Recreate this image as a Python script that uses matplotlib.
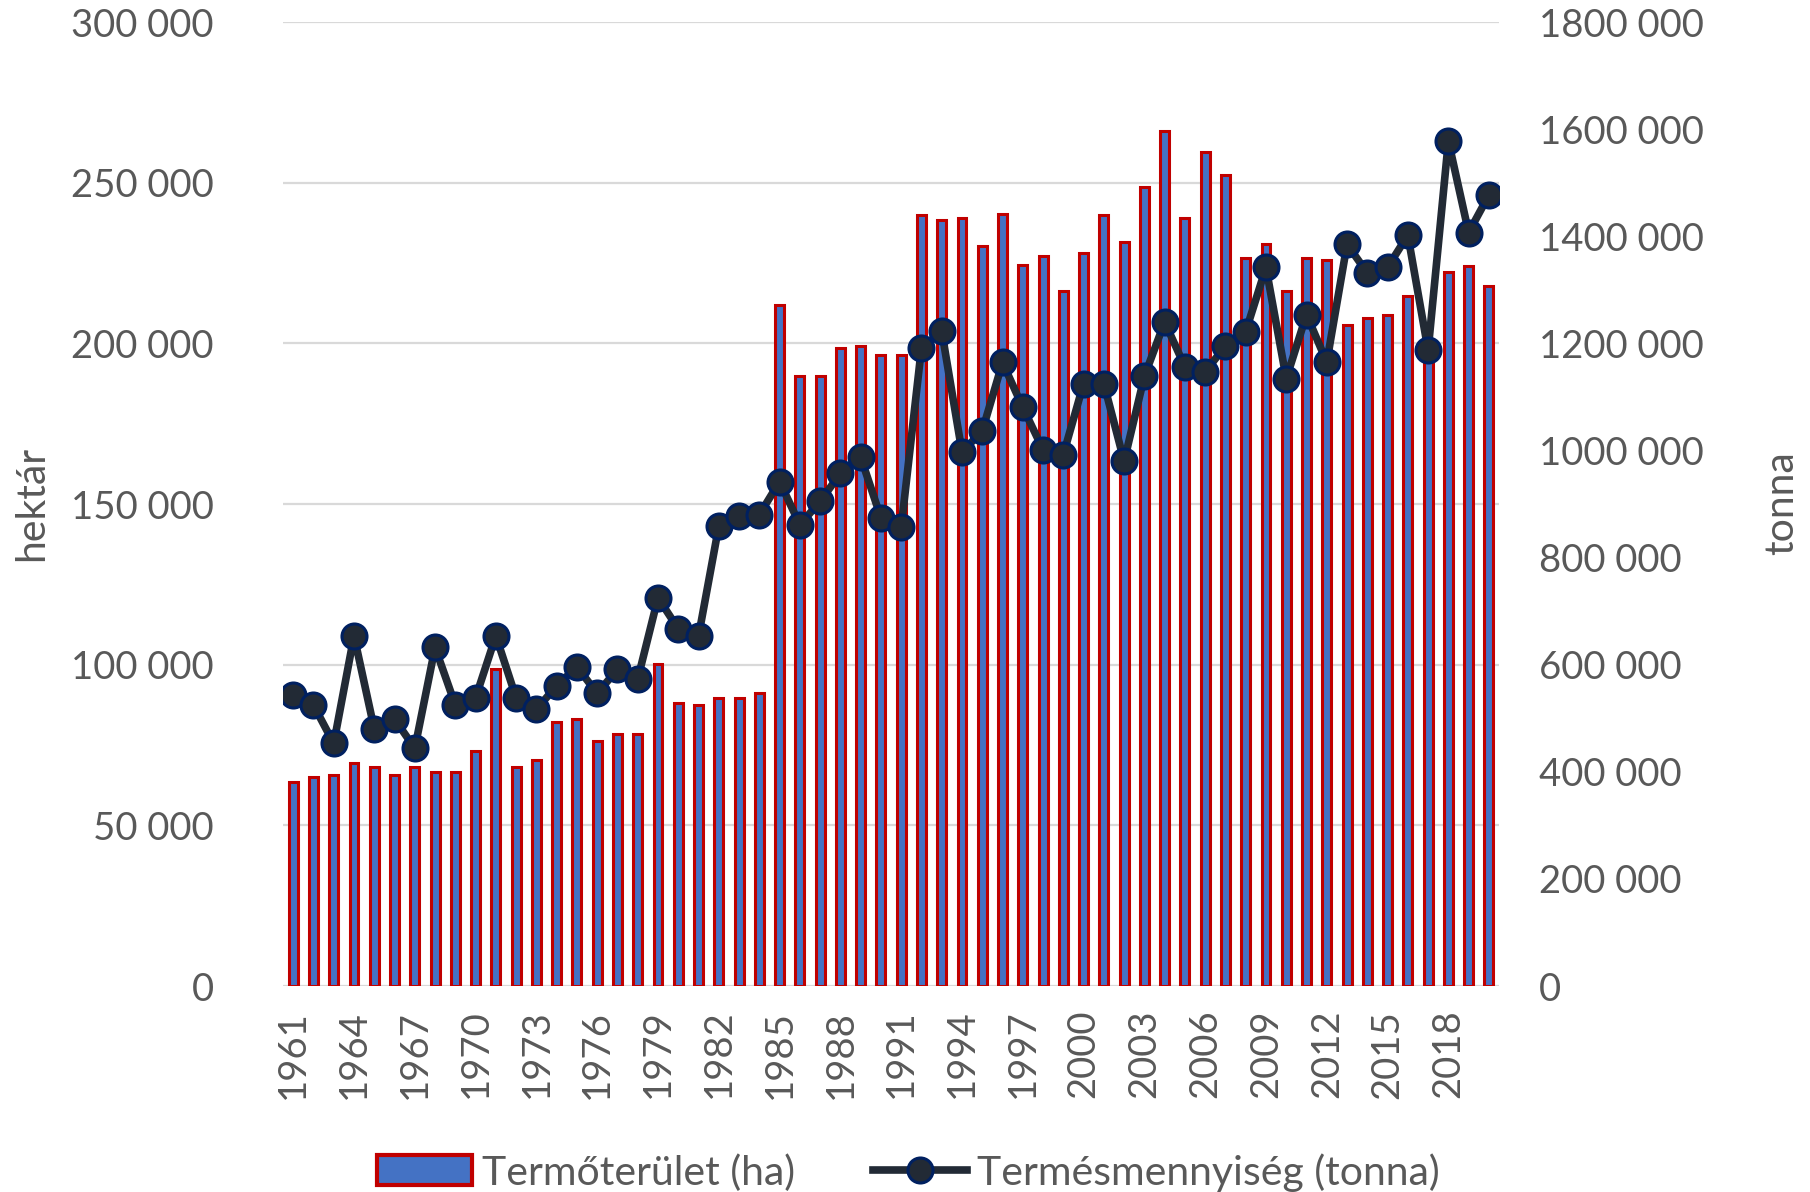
import matplotlib
matplotlib.use("Agg")
import matplotlib.pyplot as plt
from matplotlib.patches import Patch
from matplotlib.lines import Line2D
from matplotlib.ticker import FixedLocator, FixedFormatter

years = list(range(1961, 2021))

area_ha = [
    63500, 65000, 65800, 69400, 68100, 65800, 68100, 66600, 66600, 73100,
    98600, 68100, 70300, 82200, 83000, 76200, 78500, 78500, 100100, 88200,
    87500, 89700, 89700, 91100, 211800, 189800, 189800, 198600, 199300, 196300,
    196300, 239800, 238300, 238900, 230200, 240400, 224400, 227200, 216200, 228000,
    239800, 231600, 248600, 266100, 238900, 259500, 252300, 226500, 230800, 216300,
    226600, 225900, 205800, 208000, 208700, 214800, 199000, 222300, 224200, 217800,
]

yield_t = [
    542700, 524600, 453000, 654000, 479800, 498500, 443800, 632300, 524600, 538300,
    654000, 538000, 516600, 560700, 596000, 546500, 591300, 573200, 725000, 667000,
    653500, 858800, 877000, 880000, 942000, 861300, 904900, 957200, 987900, 874200,
    856400, 1191400, 1222700, 997100, 1036500, 1164300, 1080700, 1001400, 992200, 1125000,
    1125000, 979900, 1138500, 1240000, 1156400, 1147100, 1195100, 1222000, 1341800, 1134200,
    1253700, 1165000, 1385000, 1331600, 1342000, 1402000, 1187000, 1578000, 1407000, 1477000,
]

left_ticks = [0, 50000, 100000, 150000, 200000, 250000, 300000]
left_labels = ["0", "50 000", "100 000", "150 000", "200 000", "250 000", "300 000"]
right_ticks = [0, 200000, 400000, 600000, 800000, 1000000, 1200000, 1400000, 1600000, 1800000]
right_labels = ["0", "200 000", "400 000", "600 000", "800 000", "1000 000",
                "1200 000", "1400 000", "1600 000", "1800 000"]

series_names = ["Termőterület (ha)", "Termésmennyiség (tonna)"]
axis_titles = ["hektár", "tonna"]

TXT = "#595959"
FS = 27.5
plt.rcParams["font.family"] = ["Lato", "DejaVu Sans"]

fig = plt.figure(figsize=(18.10, 11.92), dpi=100)
ax = fig.add_axes([0.1564, 0.1728, 0.6718, 0.8087])
ax2 = ax.twinx()

x = list(range(len(years)))
ax.bar(x, area_ha, width=0.44, color="#4472C4", edgecolor="#C00000",
       linewidth=2.2, zorder=3)
ax2.plot(x, yield_t, color="#222A35", linewidth=5.5, marker="o", markersize=18,
         markerfacecolor="#222A35", markeredgecolor="#002060", markeredgewidth=2.2,
         zorder=4)

ax.set_xlim(-0.5, len(years) - 0.5)
ax.set_ylim(0, 300000)
ax2.set_ylim(0, 1800000)

ax.yaxis.set_major_locator(FixedLocator(left_ticks))
ax.yaxis.set_major_formatter(FixedFormatter(left_labels))
ax2.yaxis.set_major_locator(FixedLocator(right_ticks))
ax2.yaxis.set_major_formatter(FixedFormatter(right_labels))

xt = x[::3]
ax.set_xticks(xt)
ax.set_xticklabels([str(years[i]) for i in xt], rotation=90)

ax.grid(axis="y", color="#D9D9D9", linewidth=1.6, zorder=0)
ax.set_axisbelow(True)
for a in (ax, ax2):
    for s in a.spines.values():
        s.set_visible(False)

ax.tick_params(axis="y", length=0, pad=50, labelsize=FS, labelcolor=TXT)
ax2.tick_params(axis="y", length=0, pad=29, labelsize=FS, labelcolor=TXT)
ax.tick_params(axis="x", length=0, pad=17, labelsize=FS, labelcolor=TXT)

fig.text(0.0177, 0.578, axis_titles[0], rotation=90, ha="center", va="center",
         fontsize=29.5, color=TXT)
fig.text(0.9845, 0.578, axis_titles[1], rotation=90, ha="center", va="center",
         fontsize=29.5, color=TXT)

handles = [
    Patch(facecolor="#4472C4", edgecolor="#C00000", linewidth=3),
    Line2D([0], [0], color="#222A35", linewidth=5.5, marker="o", markersize=18,
           markerfacecolor="#222A35", markeredgecolor="#002060", markeredgewidth=2.2),
]
fig.legend(handles, series_names, loc="center", bbox_to_anchor=(0.502, 0.0165),
           ncol=2, frameon=False, fontsize=29.5, labelcolor=TXT,
           handlelength=2.3, handleheight=0.75, handletextpad=0.25, columnspacing=1.9)

fig.savefig("out.png", dpi=100)
